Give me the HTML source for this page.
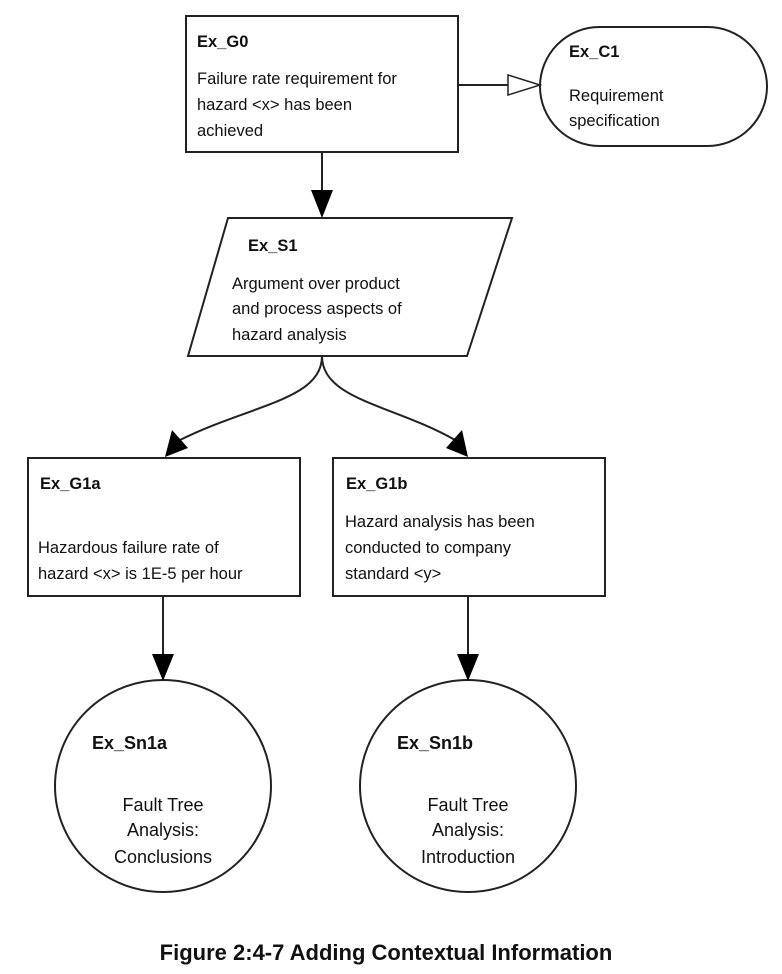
<!DOCTYPE html>
<html><head><style>
html,body{margin:0;padding:0;background:#fff;}
svg{display:block;}
.t{font-family:"Liberation Sans",sans-serif;font-size:16.5px;fill:#111;}
.b{font-weight:bold;}
.a{font-family:"Liberation Sans",sans-serif;font-size:18px;fill:#111;}
</style></head><body>
<svg width="782" height="974" viewBox="0 0 782 974" xmlns="http://www.w3.org/2000/svg">
<g fill="none" stroke="#222" stroke-width="2">
<rect x="186" y="16" width="272" height="136" fill="#fff"/>
<rect x="540" y="27" width="227" height="119" rx="59.5" ry="59.5" fill="#fff"/>
<polygon points="228,218 512,218 467,356 188,356" fill="#fff"/>
<rect x="28" y="458" width="272" height="138" fill="#fff"/>
<rect x="333" y="458" width="272" height="138" fill="#fff"/>
<ellipse cx="163" cy="786" rx="108" ry="106" fill="#fff"/>
<ellipse cx="468" cy="786" rx="108" ry="106" fill="#fff"/>
<line x1="458" y1="85" x2="508" y2="85"/>
<line x1="322" y1="152" x2="322" y2="192"/>
<path d="M322,356 C322,400 250,405 180,440"/>
<path d="M322,356 C322,400 394,405 455,440"/>
<line x1="163" y1="596" x2="163" y2="656"/>
<line x1="468" y1="596" x2="468" y2="656"/>
</g>
<polygon points="508,75 540,85 508,95" fill="#fff" stroke="#222" stroke-width="1.5"/>
<polygon points="311,190 333,190 322,218" fill="#000"/>
<polygon points="152,654 174,654 163,681" fill="#000"/>
<polygon points="457,654 479,654 468,681" fill="#000"/>
<polygon points="165,457 172,430 188,448" fill="#000"/>
<polygon points="468,457 446,448 462,430" fill="#000"/>
<text class="t b" x="197" y="47">Ex_G0</text>
<text class="t" x="197" y="84">Failure rate requirement for</text>
<text class="t" x="197" y="110">hazard &lt;x&gt; has been</text>
<text class="t" x="197" y="136">achieved</text>
<text class="t b" x="569" y="57">Ex_C1</text>
<text class="t" x="569" y="101">Requirement</text>
<text class="t" x="569" y="126">specification</text>
<text class="t b" x="248" y="251">Ex_S1</text>
<text class="t" x="232" y="289">Argument over product</text>
<text class="t" x="232" y="314">and process aspects of</text>
<text class="t" x="232" y="340">hazard analysis</text>
<text class="t b" x="40" y="489">Ex_G1a</text>
<text class="t" x="38" y="553">Hazardous failure rate of</text>
<text class="t" x="38" y="579">hazard &lt;x&gt; is 1E-5 per hour</text>
<text class="t b" x="346" y="489">Ex_G1b</text>
<text class="t" x="345" y="527">Hazard analysis has been</text>
<text class="t" x="345" y="553">conducted to company</text>
<text class="t" x="345" y="579">standard &lt;y&gt;</text>
<text class="a b" x="92" y="749" font-size="19">Ex_Sn1a</text>
<text class="a" x="163" y="811" text-anchor="middle">Fault Tree</text>
<text class="a" x="163" y="836" text-anchor="middle">Analysis:</text>
<text class="a" x="163" y="863" text-anchor="middle">Conclusions</text>
<text class="a b" x="397" y="749" font-size="19">Ex_Sn1b</text>
<text class="a" x="468" y="811" text-anchor="middle">Fault Tree</text>
<text class="a" x="468" y="836" text-anchor="middle">Analysis:</text>
<text class="a" x="468" y="863" text-anchor="middle">Introduction</text>
<text x="386" y="960" text-anchor="middle" font-family="Liberation Sans, sans-serif" font-weight="bold" font-size="22" fill="#111">Figure 2:4-7 Adding Contextual Information</text>
</svg>
</body></html>
